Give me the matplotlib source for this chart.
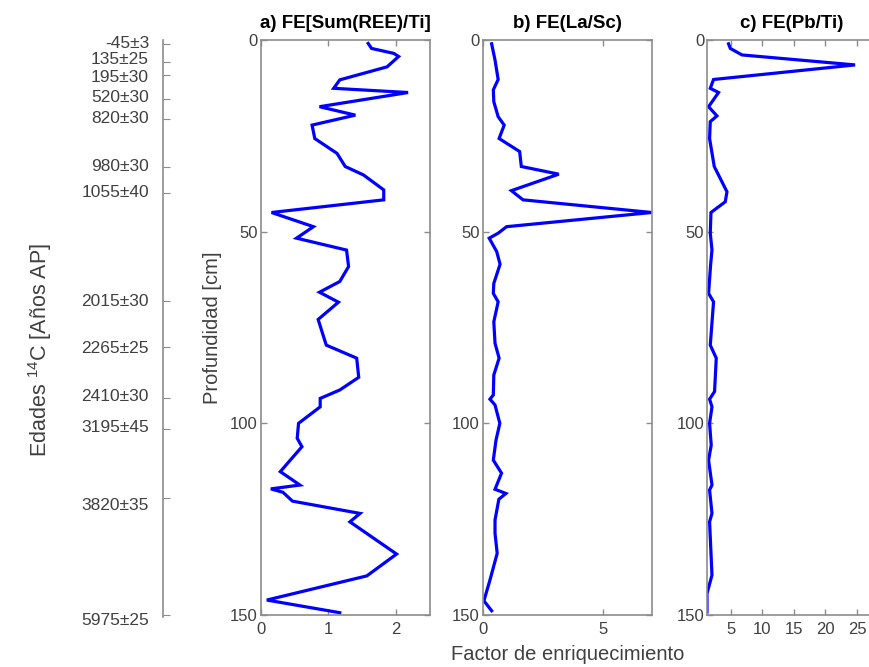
import matplotlib
matplotlib.use("Agg")
import matplotlib.pyplot as plt

plt.rcParams['font.family'] = ['Liberation Sans', 'DejaVu Sans']
plt.rcParams['mathtext.fontset'] = 'custom'
plt.rcParams['mathtext.rm'] = 'Liberation Sans'
plt.rcParams['mathtext.it'] = 'Liberation Sans'

# ---- data ----
depth_a = [0.9, 2.2, 3.5, 4.3, 7.0, 10.4, 12.6, 13.7, 17.4, 19.6, 22.2, 25.7, 29.6, 33.0,
           35.2, 39.1, 41.7, 45.0, 48.7, 51.7, 54.8, 59.1, 63.0, 65.8, 68.4, 72.9, 75.7,
           79.6, 83.0, 88.0, 91.3, 93.5, 95.7, 100.0, 103.9, 106.1, 112.6, 116.1, 117.1,
           118.0, 120.3, 123.5, 125.7, 134.1, 139.8, 146.1, 149.4]
fe_ree_ti = [1.59, 1.64, 1.97, 2.04, 1.87, 1.17, 1.08, 2.18, 0.87, 1.40, 0.76, 0.80, 1.13, 1.25,
             1.52, 1.82, 1.82, 0.16, 0.78, 0.53, 1.27, 1.30, 1.17, 0.87, 1.15, 0.85, 0.90,
             0.97, 1.42, 1.45, 1.17, 0.88, 0.88, 0.56, 0.54, 0.61, 0.29, 0.58, 0.15,
             0.33, 0.47, 1.47, 1.32, 2.01, 1.57, 0.09, 1.17]

depth_b = [1.0, 5.2, 10.3, 13.0, 16.1, 20.0, 22.2, 25.7, 29.1, 33.0, 35.0, 39.3, 41.7, 45.0,
           48.7, 50.4, 51.7, 55.2, 58.5, 63.5, 66.1, 68.3, 73.5, 79.1, 83.0, 87.4, 92.6,
           93.7, 95.2, 100.0, 104.4, 109.6, 113.0, 117.2, 118.3, 119.8, 125.2, 128.7,
           133.9, 140.9, 146.3, 148.9]
fe_la_sc = [0.37, 0.51, 0.64, 0.44, 0.46, 0.64, 0.89, 0.68, 1.53, 1.60, 3.15, 1.19, 1.67, 7.0,
            0.99, 0.64, 0.27, 0.58, 0.72, 0.46, 0.44, 0.64, 0.46, 0.51, 0.68, 0.46, 0.44,
            0.30, 0.51, 0.71, 0.55, 0.44, 0.78, 0.51, 0.96, 0.67, 0.51, 0.51,
            0.60, 0.30, 0.05, 0.37]

depth_c = [1.0, 2.2, 3.9, 6.5, 10.3, 12.6, 13.7, 17.4, 19.8, 21.3, 25.7, 33.0, 39.6, 42.2,
           45.0, 50.4, 54.8, 58.5, 66.1, 68.3, 79.6, 83.0, 91.7, 93.7, 95.7, 100.0, 105.7,
           109.6, 116.1, 117.4, 123.5, 125.7, 139.6, 144.4, 149.2]
fe_pb_ti = [4.62, 4.90, 6.76, 24.7, 2.24, 1.72, 3.03, 1.45, 2.78, 1.72, 1.61, 2.35, 4.37, 4.10,
            1.83, 1.72, 1.99, 1.78, 1.45, 2.24, 1.72, 2.67, 2.40, 1.61, 1.99, 1.61, 1.87,
            1.45, 1.99, 1.61, 1.99, 1.61, 1.99, 1.2, 1.2]

age_depths = [1.0, 5.7, 9.1, 15.4, 20.6, 33.2, 39.9, 68.1, 80.2, 93.3, 101.5, 119.4, 150.0]
age_label_depths = [0.8, 5.0, 9.7, 14.9, 20.4, 33.1, 39.7, 68.1, 80.4, 93.1, 101.2, 121.3, 151.3]
age_labels = ['-45±3', '135±25', '195±30', '520±30', '820±30', '980±30', '1055±40',
              '2015±30', '2265±25', '2410±30', '3195±45', '3820±35', '5975±25']

titles = ['a) FE[Sum(REE)/Ti]', 'b) FE(La/Sc)', 'c) FE(Pb/Ti)']
xticks_a = [0, 1, 2]
xticks_b = [0, 5]
xticks_c = [5, 10, 15, 20, 25]
yticks = [0, 50, 100, 150]

# ---- figure ----
W, H = 869, 667
fig = plt.figure(figsize=(W / 100, H / 100), dpi=100)

spine_col = '#8c8c8c'
tick_col = '#404040'
bottom = (H - 615) / H
height = 575 / H
width = 169 / W

def style(ax):
    for s in ax.spines.values():
        s.set_color(spine_col)
        s.set_linewidth(1.2)
    ax.tick_params(direction='in', length=4, width=1, color=spine_col,
                   labelcolor=tick_col, labelsize=12, top=True, right=True)
    ax.tick_params(axis='x', pad=5)
    ax.tick_params(axis='y', pad=2)

lefts = [260.7 / W, 482.7 / W, 707 / W]
xs = [fe_ree_ti, fe_la_sc, fe_pb_ti]
ds = [depth_a, depth_b, depth_c]
xlims = [(0, 2.5), (0, 7), (1.2, 1.2 + 169 / 6.3)]
xticks = [xticks_a, xticks_b, xticks_c]

axes = []
for i in range(3):
    ax = fig.add_axes([lefts[i], bottom, width, height])
    ax.plot(xs[i], ds[i], color='#0000ff', lw=2.3, solid_joinstyle='miter')
    ax.set_xlim(*xlims[i])
    ax.set_ylim(150, 0)
    ax.set_xticks(xticks[i])
    ax.set_yticks(yticks)
    style(ax)
    ax.set_title(titles[i], fontsize=13.5, fontweight='bold', pad=9)
    axes.append(ax)

axes[0].set_ylabel('Profundidad [cm]', fontsize=14.5, color=tick_col, labelpad=6)
axes[1].set_xlabel('Factor de enriquecimiento', fontsize=14.5, color=tick_col, labelpad=6)

# age axis
ax_age = fig.add_axes([163 / W, (H - 617) / H, 0.01, 577 / H])
ax_age.set_ylim(150.5, 0)
for s in ['top', 'right', 'bottom']:
    ax_age.spines[s].set_visible(False)
ax_age.spines['left'].set_color(spine_col)
ax_age.spines['left'].set_linewidth(1.2)
ax_age.set_xticks([])
ax_age.set_yticks(age_depths)
ax_age.set_yticklabels([])
ax_age.tick_params(axis='y', direction='in', length=5, color=spine_col)
ax_age.patch.set_visible(False)
trans = ax_age.get_yaxis_transform()
for dd, lab in zip(age_label_depths, age_labels):
    ax_age.annotate(lab, xy=(0, dd), xycoords=trans, xytext=(-14, 0),
                    textcoords='offset pixels', ha='right', va='center',
                    fontsize=12.5, color=tick_col, annotation_clip=False)

fig.text(40 / W, 1 - 350 / H, 'Edades $^{14}$C [Años AP]', rotation=90,
         ha='center', va='center', fontsize=15.5, color=tick_col)

fig.savefig('out.png', dpi=100)
